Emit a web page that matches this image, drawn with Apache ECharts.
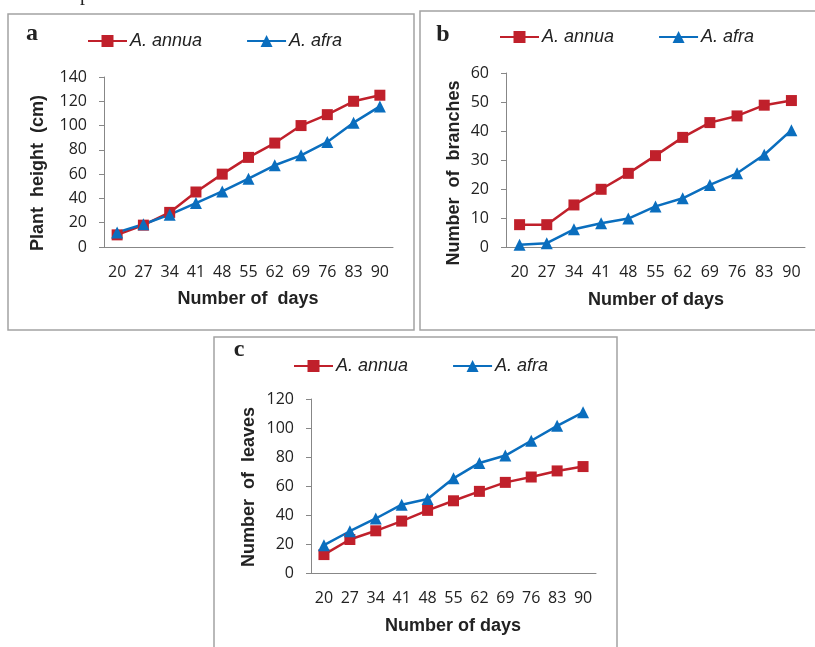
<!DOCTYPE html>
<html>
<head>
<meta charset="utf-8">
<script src="https://cdn.jsdelivr.net/npm/echarts@6/dist/echarts.min.js"></script>
<style>
html,body{margin:0;padding:0;background:#fff;}
#chart{width:815px;height:647px;}
</style>
</head>
<body>
<div id="chart"></div>
<script>
var days = ['20','27','34','41','48','55','62','69','76','83','90'];
var heightAnnua = [10, 18, 28.5, 45.3, 60, 73.8, 85.6, 100, 109, 120, 125];
var heightAfra = [12, 18.7, 26.6, 36.2, 45.8, 56.3, 67.3, 75.5, 86.5, 102.4, 115.8];
var branchesAnnua = [7.7, 7.7, 14.5, 19.9, 25.4, 31.5, 37.8, 42.9, 45.2, 48.9, 50.5];
var branchesAfra = [0.8, 1.3, 6.1, 8.2, 9.8, 14.0, 16.8, 21.4, 25.4, 31.8, 40.3];
var leavesAnnua = [12.7, 23.1, 29.1, 35.8, 43.2, 49.8, 56.3, 62.5, 66.2, 70.4, 73.4];
var leavesAfra = [19.2, 28.8, 37.6, 47.1, 51, 65.3, 75.9, 81, 91.2, 101.5, 110.8];
var seriesNames = ['A. annua', 'A. afra'];

var RED = '#C0202B', BLUE = '#0A6EBE', AXIS = '#878787', TXT = '#222';
var tickFont = 'Open Sans';

function xAx(i){
  return {type:'category', gridIndex:i, data:days, boundaryGap:true,
    axisLine:{lineStyle:{color:AXIS,width:1}}, axisTick:{show:false},
    axisLabel:{color:TXT, fontSize:16, fontFamily:tickFont, margin:17, interval:0}};
}
function yAx(i, max, step){
  return {type:'value', gridIndex:i, min:0, max:max, interval:step,
    axisLine:{show:true, lineStyle:{color:AXIS,width:1}},
    axisTick:{show:true, length:5, lineStyle:{color:AXIS}},
    splitLine:{show:false},
    axisLabel:{color:TXT, fontSize:16, fontFamily:tickFont, margin:17}};
}
function ser(name, i, data){
  var red = name === seriesNames[0];
  return {type:'line', name:name, xAxisIndex:i, yAxisIndex:i, data:data,
    symbol: red ? 'rect' : 'triangle', symbolSize: red ? 11 : 12,
    lineStyle:{color: red ? RED : BLUE, width:2.5},
    itemStyle:{color: red ? RED : BLUE},
    animation:false};
}
function leg(left, top){
  return {left:left, top:top, padding:0, itemGap:44, itemWidth:39, itemHeight:15,
    data:seriesNames,
    textStyle:{fontSize:18, fontStyle:'italic', fontFamily:'Liberation Sans', color:TXT, lineHeight:18, padding:[0,0,0,-2]}};
}
function txt(x, y, s, size, rot, family, weight){
  return {type:'text', x:x, y:y, rotation:rot||0,
    style:{text:s, fill:TXT, font:(weight||'bold')+' '+size+'px "'+(family||'Liberation Sans')+'"',
      align:'center', verticalAlign:'middle'}};
}
function box(x, y, w, h){
  return {type:'rect', shape:{x:x, y:y, width:w, height:h},
    style:{fill:'none', stroke:'#A3A3A3', lineWidth:1.5}, z:-1};
}

var chart = echarts.init(document.getElementById('chart'));
chart.setOption({
  backgroundColor:'#fff',
  animation:false,
  grid:[
    {left:104, top:77, width:289, height:170},
    {left:506, top:73, width:299, height:174},
    {left:311, top:399, width:285, height:174}
  ],
  xAxis:[xAx(0), xAx(1), xAx(2)],
  yAxis:[yAx(0,140,20), yAx(1,60,10), yAx(2,120,20)],
  legend:[leg(87,32), leg(499,28), leg(293,357)],
  series:[
    ser(seriesNames[0],0,heightAnnua), ser(seriesNames[1],0,heightAfra),
    ser(seriesNames[0],1,branchesAnnua), ser(seriesNames[1],1,branchesAfra),
    ser(seriesNames[0],2,leavesAnnua), ser(seriesNames[1],2,leavesAfra)
  ],
  graphic:[
    box(8,14,406,316),
    box(420,11,400,319),
    box(214,337,403,320),
    {type:'text', x:85, y:5, style:{text:'p', fill:TXT, font:'20px "Liberation Serif"', align:'center', verticalAlign:'bottom'}},
    txt(32, 34, 'a', 24, 0, 'Liberation Serif'),
    txt(443, 35, 'b', 24, 0, 'Liberation Serif'),
    txt(239, 350, 'c', 24, 0, 'Liberation Serif'),
    txt(248, 299, 'Number of  days', 18),
    txt(656, 300, 'Number of days', 18),
    txt(453, 626, 'Number of days', 18),
    txt(38, 173, 'Plant  height  (cm)', 18, Math.PI/2),
    txt(454, 173, 'Number  of  branches', 18, Math.PI/2),
    txt(249, 487, 'Number  of  leaves', 18, Math.PI/2)
  ]
});
</script>
</body>
</html>
